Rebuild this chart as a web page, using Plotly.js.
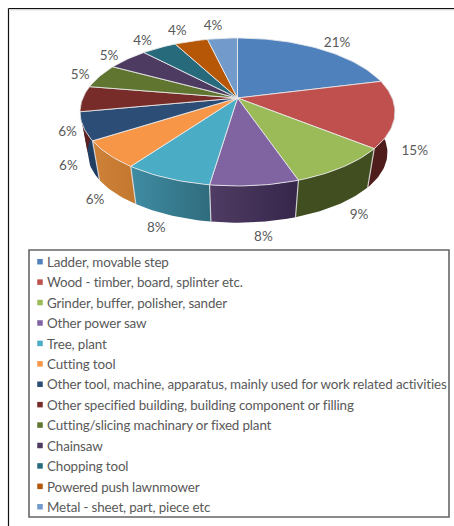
<!DOCTYPE html>
<html>
<head>
<meta charset="utf-8">
<script src="https://cdn.plot.ly/plotly-3.0.1.min.js"></script>
<style>html,body{margin:0;padding:0;background:#fff}#chart{width:454px;height:526px}.legendtext{letter-spacing:-0.14px}</style>
</head>
<body>
<div id="chart"></div>
<script>
const categories = [
  "Ladder, movable step",
  "Wood - timber, board, splinter etc.",
  "Grinder, buffer, polisher, sander",
  "Other power saw",
  "Tree, plant",
  "Cutting tool",
  "Other tool, machine, apparatus, mainly used for work related activities",
  "Other specified building, building component or filling",
  "Cutting/slicing machinary or fixed plant",
  "Chainsaw",
  "Chopping tool",
  "Powered push lawnmower",
  "Metal - sheet, part, piece etc"
];
const shares = [21.1, 14.7, 9.0, 7.6, 7.6, 6.0, 6.1, 5.6, 5.3, 5.0, 4.3, 4.1, 3.7];
const topColors = ["#4f81bd","#c0504d","#9bbb59","#8064a2","#4bacc6","#f79646","#2c4d75","#772c2a","#5f7530","#4d3b62","#276a7c","#b65708","#729aca"];
const wallLeft  = ["#3b618e","#4f1e1c","#414f20","#503c64","#3f8ca3","#cf8238","#224066","#5a2120","#47581f","#3a2c4a","#1d505d","#894206","#557397"];
const wallRight = ["#3b618e","#4f1e1c","#414f20","#35264a","#2f6c7d","#c2772f","#1f3d5f","#5a2120","#47581f","#3a2c4a","#1d505d","#894206","#557397"];

// Projection of the tilted disc onto the page (px, y down)
const cx = 237.5, apexY = 98, persp = 0.189, depthScale = 71.35, widthScale = 154.6;
const ellipseCy = 112, baseCy = 152.7, baseX = 150 / 157.5, baseY = 70 / 74;

function topPoint(deg, r) {
  const t = deg * Math.PI / 180, u = r * Math.sin(t), v = r * Math.cos(t), w = 1 + persp * v;
  return [cx + widthScale * u / w, apexY - depthScale * v / w];
}
function basePoint(deg) {
  const p = topPoint(deg, 1);
  return [cx + (p[0] - cx) * baseX, baseCy + (p[1] - ellipseCy) * baseY];
}
function arcAngles(a, b) {
  const n = Math.max(2, Math.ceil((b - a) / 1.5)), out = [];
  for (let i = 0; i <= n; i++) out.push(a + (b - a) * i / n);
  return out;
}

const total = shares.reduce((s, v) => s + v, 0);
const edges = [0];
shares.forEach(v => edges.push(edges[edges.length - 1] + v / total * 360));

const traces = [];
const base = {type: "scatter", mode: "lines", showlegend: false, hoverinfo: "skip"};

// walls
shares.forEach((v, i) => {
  const a = edges[i], b = edges[i + 1];
  if (b <= 75 || a >= 285) return;
  const lo = Math.max(a, 75), hi = Math.min(b, 285), arc = arcAngles(lo, hi);
  const t = arc.map(d => topPoint(d, 1)), w = arc.map(basePoint).reverse();
  const pts = t.concat(w);
  pts.push(t[0]);
  traces.push(Object.assign({}, base, {
    x: pts.map(p => p[0]), y: pts.map(p => p[1]),
    fill: "toself", line: {width: 0, color: wallLeft[i]},
    fillgradient: {type: "horizontal", colorscale: [[0, wallLeft[i]], [1, wallRight[i]]]}
  }));
});
// seams between wall panels
const seamX = [], seamY = [];
edges.slice(1, -1).forEach(d => {
  if (d > 105 && d < 255) {
    const p = topPoint(d, 1), q = basePoint(d);
    seamX.push(p[0], q[0], null); seamY.push(p[1], q[1], null);
  }
});
traces.push(Object.assign({}, base, {x: seamX, y: seamY, line: {color: "rgba(225,225,225,0.85)", width: 1.2}}));

// top slices
shares.forEach((v, i) => {
  const pts = [[cx, apexY]].concat(arcAngles(edges[i], edges[i + 1]).map(d => topPoint(d, 1)));
  pts.push([cx, apexY]);
  traces.push(Object.assign({}, base, {
    x: pts.map(p => p[0]), y: pts.map(p => p[1]),
    fill: "toself", fillcolor: topColors[i],
    line: {color: "rgba(235,235,235,0.85)", width: 1}
  }));
});

// percentage labels: outside the rim, and below the wall on the front half
const labelPts = shares.map((v, i) => {
  const mid = (edges[i] + edges[i + 1]) / 2, t = mid * Math.PI / 180;
  const u = Math.sin(t), c = Math.cos(t), p = topPoint(mid, 1);
  const dx = (u > 0 || c > 0 ? 20 : 15) * Math.sign(u) * Math.pow(Math.abs(u), 0.35);
  const dy = c > 0 ? -12 * c * c * c : 34 + 18 * Math.abs(c);
  return [p[0] + dx, p[1] + dy];
});
traces.push({
  type: "scatter", mode: "text", showlegend: false, hoverinfo: "skip",
  x: labelPts.map(p => p[0]), y: labelPts.map(p => p[1]),
  text: shares.map(v => Math.round(v / total * 100) + "%"),
  textposition: "middle center",
  textfont: {family: "Lato, sans-serif", size: 13.5, color: "#595959"}
});

// legend entries
categories.forEach((name, i) => {
  traces.push({
    type: "scatter", mode: "markers", name: name, x: [null], y: [null],
    marker: {symbol: "square", size: 5.5, color: topColors[i]}, hoverinfo: "skip"
  });
});

const W = 454, H = 526;
const layout = {
  width: W, height: H,
  margin: {l: 0, r: 0, t: 0, b: 0, pad: 0},
  paper_bgcolor: "#fff", plot_bgcolor: "#fff",
  showlegend: true,
  xaxis: {range: [0, W], visible: false, fixedrange: true},
  yaxis: {range: [H, 0], visible: false, fixedrange: true},
  legend: {
    x: 7 / W, xanchor: "left", y: 1 - 246.5 / H, yanchor: "top",
    bgcolor: "rgba(0,0,0,0)", borderwidth: 0, tracegroupgap: 0, itemwidth: 30,
    font: {family: "Lato, sans-serif", size: 13.4, color: "#595959"}
  },
  shapes: [
    {type: "rect", xref: "x", yref: "y", x0: 29, x1: 449, y0: 250, y1: 517, line: {color: "#666", width: 1.6}},
    {type: "line", xref: "x", yref: "y", x0: 8.5, x1: 454, y0: 8.5, y1: 8.5, line: {color: "#111", width: 1.2}},
    {type: "line", xref: "x", yref: "y", x0: 8.5, x1: 8.5, y0: 8.5, y1: 526, line: {color: "#111", width: 1.2}},
    {type: "line", xref: "x", yref: "y", x0: 9.5, x1: 454, y0: 9.8, y1: 9.8, line: {color: "#c8c8c8", width: 1}}
  ]
};

Plotly.newPlot("chart", traces, layout, {displayModeBar: false, staticPlot: true}).then(gd => {
  gd.querySelectorAll(".legend .legendsymbols").forEach(g => g.setAttribute("transform", "translate(13,0)"));
});
</script>
</body>
</html>
